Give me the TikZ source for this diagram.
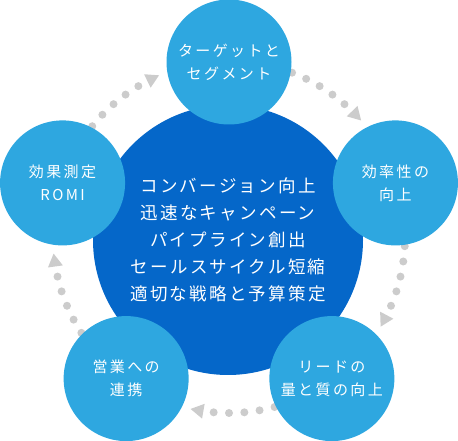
\documentclass[tikz,border=0pt]{standalone}
\usepackage{fontspec}
\newfontfamily\jpo[LetterSpace=16]{Noto Sans CJK JP}
\newfontfamily\jpc[LetterSpace=13]{Noto Sans CJK JP}
\usetikzlibrary{calc}
\definecolor{outerblue}{HTML}{2EA7E0}
\definecolor{innerblue}{HTML}{0567C9}
\definecolor{dotgray}{HTML}{CCCCCC}
\begin{document}
\begin{tikzpicture}[x=1pt,y=1pt,
  outer/.style={circle, fill=outerblue, minimum size=125pt, inner sep=0pt, text=white, align=center, font=\jpo\fontsize{15}{23}\selectfont},
  centre/.style={circle, fill=innerblue, minimum size=270pt, inner sep=0pt, text=white, align=center, font=\jpc\fontsize{17.5}{27}\selectfont}]
\useasboundingbox (0,0) rectangle (458,441);
\coordinate (C) at (229,204);
\node[centre] (hub) at (228,201) {コンバージョン向上\\迅速なキャンペーン\\パイプライン創出\\セールスサイクル短縮\\適切な戦略と予算策定};
\foreach \a in {90,18,-54,-126,162} {
  \foreach \k in {0,...,4} {
    \fill[dotgray] ($(C)+(\a-21-5*\k:176)$) circle (4);
  }
  \fill[dotgray, shift={(C)}, rotate=\a-46] (176,-8) -- (168.5,5) -- (183.5,5) -- cycle;
}
\node[outer] (target) at ($(C)+(90:175)$) {ターゲットと\\セグメント};
\node[outer] (eff) at ($(C)+(18:175)$) {効率性の\\向上};
\node[outer] (lead) at ($(C)+(-54:175)$) {リードの\\量と質の向上};
\node[outer] (sales) at ($(C)+(-126:175)$) {営業への\\連携};
\node[outer] (romi) at ($(C)+(162:175)$) {効果測定\\ROMI};
\end{tikzpicture}
\end{document}
